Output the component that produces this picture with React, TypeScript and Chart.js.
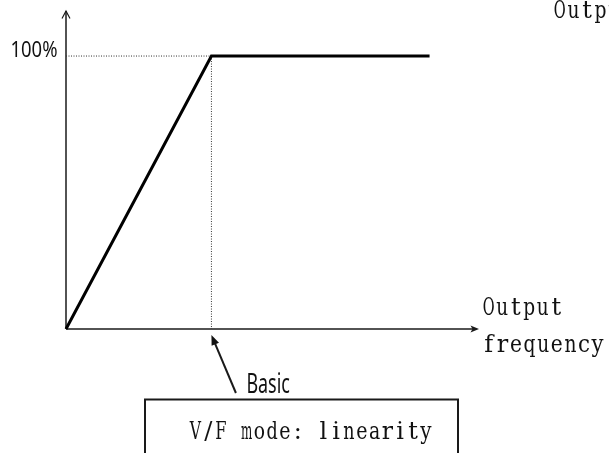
import React, { useEffect, useRef } from "react";
import { Chart, registerables } from "chart.js";

Chart.register(...registerables);

// V/F curve (linear mode): frequency (Hz) vs output voltage (%)
const curveFreq = [0, 50, 125];
const curveVolt = [0, 100, 100];
const basicFreq = 50;
const ratedVolt = 100;
const xAxisMax = 142;
const yAxisMax = 116.5;
const yTickLabel = "100%";
const xAxisLabel = ["Output", "frequency"];
const yAxisLabel = "Output voltage";
const basicLabel = "Basic";
const modeLabel = "V/F mode: linearity";

const SERIF = '"DejaVu Serif", "Liberation Serif", serif';
const SANS = '"Noto Sans", "Open Sans", sans-serif';

function fitText(ctx: CanvasRenderingContext2D, text: string, x: number, y: number, font: string, width: number, align: "left" | "right" = "left") {
  ctx.save();
  ctx.font = font;
  ctx.textBaseline = "alphabetic";
  ctx.textAlign = "left";
  const w = ctx.measureText(text).width;
  const s = width / w;
  const startX = align === "right" ? x - width : x;
  ctx.translate(startX, y);
  ctx.scale(s, 1);
  ctx.fillText(text, 0, 0);
  ctx.restore();
}

// fixed-pitch (half-width mincho-like) text, one cell per character
function monoText(ctx: CanvasRenderingContext2D, text: string, x: number, y: number, font: string, advance: number) {
  ctx.save();
  ctx.font = font;
  ctx.textBaseline = "alphabetic";
  ctx.textAlign = "left";
  for (let i = 0; i < text.length; i++) {
    const ch = text[i];
    if (ch === " ") continue;
    const w = ctx.measureText(ch).width;
    const maxW = advance * 0.88;
    const s = w > maxW ? maxW / w : 1;
    const cx = x + i * advance + advance / 2;
    ctx.save();
    ctx.translate(cx, y);
    ctx.scale(s, 1);
    ctx.fillText(ch, -w / 2, 0);
    ctx.restore();
  }
  ctx.restore();
}

const diagramPlugin = {
  id: "vfDiagram",
  beforeDatasetsDraw(chart: any) {
    const { ctx, chartArea, scales } = chart;
    const xs = scales.x;
    const ys = scales.y;
    const x0 = xs.getPixelForValue(0);
    const y0 = ys.getPixelForValue(0);
    ctx.save();
    ctx.strokeStyle = "#1a1a1a";
    ctx.fillStyle = "#1a1a1a";
    ctx.lineWidth = 1.5;
    ctx.beginPath();
    ctx.moveTo(x0, y0);
    ctx.lineTo(x0, chartArea.top);
    ctx.stroke();
    ctx.lineWidth = 1.2;
    ctx.beginPath();
    ctx.moveTo(x0 - 4, chartArea.top + 7.5);
    ctx.lineTo(x0, chartArea.top);
    ctx.lineTo(x0 + 4, chartArea.top + 7.5);
    ctx.stroke();
    ctx.lineWidth = 1.6;
    ctx.beginPath();
    ctx.moveTo(x0, y0);
    ctx.lineTo(chartArea.right - 4, y0);
    ctx.stroke();
    ctx.beginPath();
    ctx.moveTo(chartArea.right, y0);
    ctx.lineTo(chartArea.right - 8.5, y0 - 3.5);
    ctx.lineTo(chartArea.right - 6.5, y0);
    ctx.lineTo(chartArea.right - 8.5, y0 + 3.5);
    ctx.closePath();
    ctx.fill();
    ctx.restore();
  },
  afterDraw(chart: any) {
    const { ctx, chartArea, scales } = chart;
    const xs = scales.x;
    const ys = scales.y;
    const x0 = xs.getPixelForValue(0);
    const y0 = ys.getPixelForValue(0);
    const yR = ys.getPixelForValue(ratedVolt);
    const xB = xs.getPixelForValue(basicFreq);
    ctx.save();
    ctx.fillStyle = "#111";
    ctx.strokeStyle = "#1a1a1a";
    fitText(ctx, yTickLabel, x0 - 8.5, yR + 0.8, `400 22px ${SANS}`, 47, "right");
    monoText(ctx, xAxisLabel[0], chartArea.right + 3, y0 - 14, `24px ${SERIF}`, 13.5);
    monoText(ctx, xAxisLabel[1], chartArea.right + 3, y0 + 23, `24px ${SERIF}`, 13.6);
    monoText(ctx, yAxisLabel, 553, 18, `24px ${SERIF}`, 13.6);
    const tipX = xB;
    const tipY = y0 + 6;
    const tailX = xB + 24.5;
    const tailY = y0 + 64;
    const ang = Math.atan2(tailY - tipY, tailX - tipX);
    const hl = 10;
    const hw = 4;
    ctx.lineWidth = 2;
    ctx.beginPath();
    ctx.moveTo(tailX, tailY);
    ctx.lineTo(tipX + Math.cos(ang) * hl * 0.8, tipY + Math.sin(ang) * hl * 0.8);
    ctx.stroke();
    const bx = tipX + Math.cos(ang) * hl;
    const by = tipY + Math.sin(ang) * hl;
    ctx.beginPath();
    ctx.moveTo(tipX, tipY);
    ctx.lineTo(bx - Math.sin(ang) * hw, by + Math.cos(ang) * hw);
    ctx.lineTo(bx + Math.sin(ang) * hw, by - Math.cos(ang) * hw);
    ctx.closePath();
    ctx.fill();
    fitText(ctx, basicLabel, tailX + 10.5, tailY, `28px ${SANS}`, 43.5);
    ctx.lineWidth = 2;
    ctx.strokeRect(145, y0 + 70.5, 313, 70);
    monoText(ctx, modeLabel, 189, y0 + 109.5, `24px ${SERIF}`, 12.8);
    ctx.restore();
  },
};

export default function App() {
  const ref = useRef<HTMLCanvasElement>(null);
  useEffect(() => {
    if (!ref.current) return;
    const chart = new Chart(ref.current, {
      type: "line",
      data: {
        datasets: [
          {
            label: "V/F",
            data: curveFreq.map((f, i) => ({ x: f, y: curveVolt[i] })),
            borderColor: "#000",
            borderWidth: 3,
            pointRadius: 0,
            tension: 0,
            clip: false as any,
          },
          {
            label: "rated",
            data: [
              { x: 0, y: ratedVolt },
              { x: basicFreq, y: ratedVolt },
            ],
            borderColor: "#333",
            borderWidth: 1,
            borderDash: [1, 1.5],
            pointRadius: 0,
            clip: false as any,
          },
          {
            label: "basic",
            data: [
              { x: basicFreq, y: ratedVolt },
              { x: basicFreq, y: 0 },
            ],
            borderColor: "#333",
            borderWidth: 1,
            borderDash: [1, 1.5],
            pointRadius: 0,
            clip: false as any,
          },
        ],
      },
      options: {
        animation: false,
        responsive: false,
        layout: { padding: { left: 66, top: 11, right: 130, bottom: 124 } },
        plugins: { legend: { display: false }, tooltip: { enabled: false } },
        scales: {
          x: { type: "linear", min: 0, max: xAxisMax, display: false },
          y: { type: "linear", min: 0, max: yAxisMax, display: false },
        },
      },
      plugins: [diagramPlugin],
    });
    return () => chart.destroy();
  }, []);
  return (
    <div style={{ position: "absolute", left: 0, top: 0, width: 609, height: 453, background: "#fff" }}>
      <canvas ref={ref} width={609} height={453} />
    </div>
  );
}
